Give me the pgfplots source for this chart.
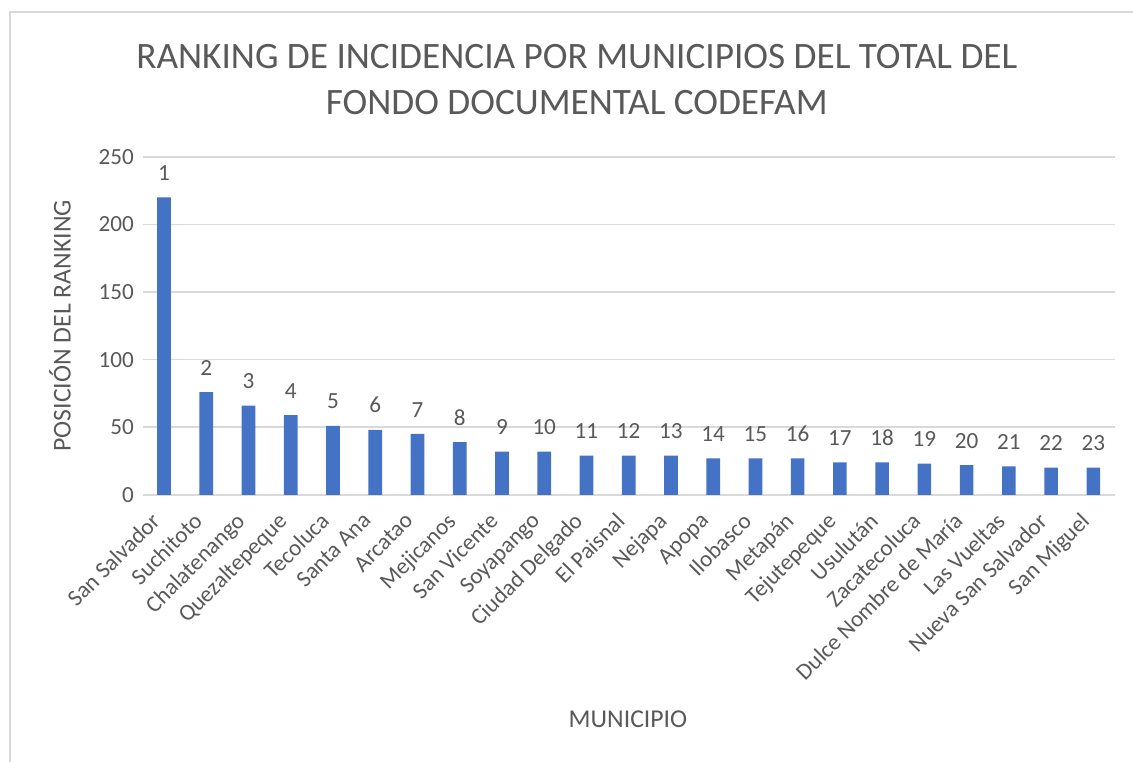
\documentclass[border=0pt]{standalone}
\usepackage{pgfplots}
\pgfplotsset{compat=1.18}
\usepackage{pgfplotstable}
\usepackage{fontspec}
\setmainfont{Carlito}
\definecolor{barblue}{HTML}{4472C4}
\definecolor{txtgray}{HTML}{595959}
\definecolor{gridgray}{HTML}{D9D9D9}
\pgfplotstableread{
x y rank
0 220 1
1 76 2
2 66 3
3 59 4
4 51 5
5 48 6
6 45 7
7 39 8
8 32 9
9 32 10
10 29 11
11 29 12
12 29 13
13 27 14
14 27 15
15 27 16
16 24 17
17 24 18
18 23 19
19 22 20
20 21 21
21 20 22
22 20 23
}\datatable
\begin{document}
\begin{tikzpicture}
\useasboundingbox (-55.6pt,-103.9pt) rectangle (385.2pt,192.5pt);
\draw[gridgray,line width=0.6pt] (-51.7pt,-103.9pt) -- (-51.7pt,187.8pt) -- (385.2pt,187.8pt);
\begin{axis}[
  scale only axis,
  width=378pt, height=131.5pt,
  at={(0pt,0pt)}, anchor=south west,
  ybar, bar width=5.3pt,
  xmin=-0.5, xmax=22.5,
  ymin=0, ymax=250,
  ytick={0,50,100,150,200,250},
  xtick=data,
  xticklabels={San Salvador,Suchitoto,Chalatenango,Quezaltepeque,Tecoluca,Santa Ana,Arcatao,Mejicanos,San Vicente,Soyapango,Ciudad Delgado,El Paisnal,Nejapa,Apopa,Ilobasco,Metapán,Tejutepeque,Usulután,Zacatecoluca,Dulce Nombre de María,Las Vueltas,Nueva San Salvador,San Miguel},
  x tick label style={rotate=45, anchor=north east, font=\fontsize{9}{11}\selectfont, text=txtgray, inner sep=1pt, xshift=-4.2pt, yshift=3.5pt},
  y tick label style={font=\fontsize{9}{11}\selectfont, text=txtgray},
  /pgf/number format/assume math mode=true,
  axis line style={draw=none},
  axis x line*=bottom,
  x axis line style={draw=gridgray, line width=0.8pt},
  tick style={draw=none},
  ymajorgrids,
  grid style={gridgray, line width=0.6pt},
  point meta=explicit,
  nodes near coords={\pgfmathprintnumber{\pgfplotspointmeta}},
  nodes near coords style={font=\fontsize{9}{11}\selectfont, text=txtgray, yshift=3pt},
  clip=false,
]
\addplot[fill=barblue, draw=none] table[x=x, y=y, meta=rank] {\datatable};
\end{axis}
\node[text=txtgray, align=center, font=\fontsize{14.5}{17.9}\selectfont] at (168.8pt,161.5pt) {RANKING DE INCIDENCIA POR MUNICIPIOS DEL TOTAL DEL\\FONDO DOCUMENTAL CODEFAM};
\node[text=txtgray, rotate=90, font=\fontsize{10}{12}\selectfont] at (-32.3pt,65.75pt) {POSICIÓN DEL RANKING};
\node[text=txtgray, font=\fontsize{10}{12}\selectfont] at (188.7pt,-87.5pt) {MUNICIPIO};
\end{tikzpicture}
\end{document}
